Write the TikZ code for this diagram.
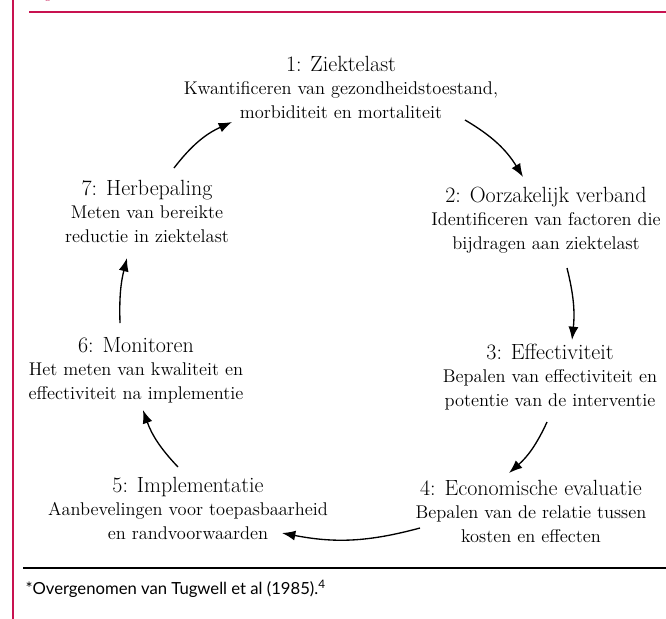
\documentclass[tikz,border=0pt]{standalone}
\usepackage{fontspec}
\usetikzlibrary{arrows.meta}
\newfontfamily\notefont{Lato}
\definecolor{figred}{RGB}{200,18,80}

\tikzset{every picture/.style={line width=0.75pt}}
\tikzset{stage/.style={align=center, inner sep=0.75pt, font=\fontsize{13.8}{17.6}\selectfont},
         cycarrow/.style={line width=1pt, -{Latex[length=10pt,width=7.5pt]}}}
\newcommand{\stagetitle}[1]{{\fontsize{16.5}{17.6}\selectfont #1}}

\begin{document}
\begin{tikzpicture}[x=0.75pt,y=0.75pt,yscale=-1,xscale=1]
    \useasboundingbox (0,0) rectangle (666,618);

    %Shape: Line [id:red margin]
    \draw [color=figred, line width=1.5pt] (13,-2) -- (13,620);
    %Shape: Line [id:red rule]
    \draw [color=figred, line width=0.9pt] (29,12) -- (668,12);
    % Text Node (cut caption)
    \node (cap) [anchor=base west, inner sep=0pt, color=figred, font=\fontsize{14}{16}\itshape] at (44,-3) {g};

    % Text Node
    \node (n1) [stage] at (341,87) {\stagetitle{1: Ziektelast}\\Kwantificeren van gezondheidstoestand,\\morbiditeit en mortaliteit};
    % Text Node
    \node (n2) [stage] at (546,220) {\stagetitle{2: Oorzakelijk verband}\\Identificeren van factoren die\\bijdragen aan ziektelast};
    % Text Node
    \node (n3) [stage] at (550,377) {\stagetitle{3: Effectiviteit}\\Bepalen van effectiviteit en\\potentie van de interventie};
    % Text Node
    \node (n4) [stage] at (531,511) {\stagetitle{4: Economische evaluatie}\\Bepalen van de relatie tussen\\kosten en effecten};
    % Text Node
    \node (n5) [stage] at (188,508) {\stagetitle{5: Implementatie}\\Aanbevelingen voor toepasbaarheid\\en randvoorwaarden};
    % Text Node
    \node (n6) [stage] at (136,370) {\stagetitle{6: Monitoren}\\Het meten van kwaliteit en\\effectiviteit na implementie};
    % Text Node
    \node (n7) [stage] at (147,211) {\stagetitle{7: Herbepaling}\\Meten van bereikte\\reductie in ziektelast};

    % arrow ends
    \coordinate (a7) at (174,168);  \coordinate (b1) at (232,122);
    \coordinate (a1) at (465,120);  \coordinate (b2) at (523,177);
    \coordinate (a2) at (567,268);  \coordinate (b3) at (572,340);
    \coordinate (a3) at (547,422);  \coordinate (b4) at (509,473);
    \coordinate (a4) at (420,528);  \coordinate (b5) at (282,533);
    \coordinate (a5) at (178,467);  \coordinate (b6) at (143,410);
    \coordinate (a6) at (120,323);  \coordinate (b7) at (127,258);

    %Curve Lines
    \draw [cycarrow] (a7) to [bend right=14] (b1);
    \draw [cycarrow] (a1) to [bend right=14] (b2);
    \draw [cycarrow] (a2) to [bend right=10] (b3);
    \draw [cycarrow] (a3) to [bend right=12] (b4);
    \draw [cycarrow] (a4) to [bend right=13] (b5);
    \draw [cycarrow] (a5) to [bend right=12] (b6);
    \draw [cycarrow] (a6) to [bend right=8] (b7);

    %Shape: Line [id:footnote rule]
    \draw [line width=0.8pt] (23,568) -- (668,568);
    % Text Node
    \node (note) [anchor=base west, inner sep=0pt, font=\notefont\fontsize{12.5}{15}\selectfont] at (25,594) {*Overgenomen van Tugwell et al (1985).\textsuperscript{4}};

\end{tikzpicture}
\end{document}
